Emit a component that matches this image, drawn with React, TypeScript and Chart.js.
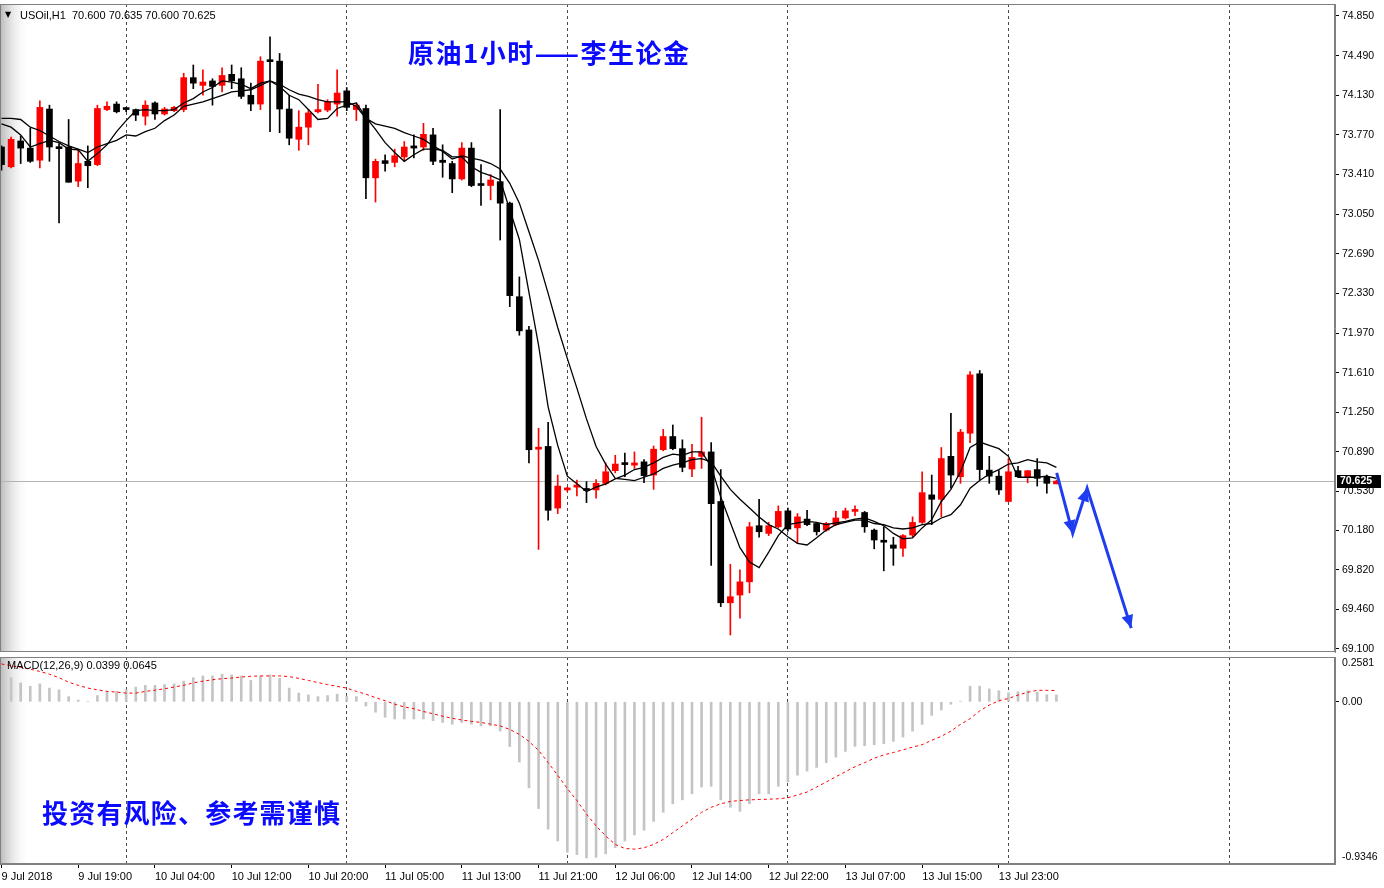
import React, { useEffect, useRef } from 'react';
import { Chart, registerables } from 'chart.js';

Chart.register(...registerables);

// ---------------- data (USOil H1) ----------------
const opens = [
  73.66, 73.48, 73.715, 73.65, 73.54, 74.005, 73.655, 73.66, 73.35, 73.53,
  73.50, 74.00, 74.05, 74.005, 74.00, 73.94, 74.06, 73.96, 73.99, 74.00,
  74.29, 74.22, 74.26, 74.22, 74.32, 74.28, 74.13, 74.05, 74.445, 74.44,
  74.005, 73.73, 73.84, 73.98, 73.995, 74.05, 74.17, 74.00, 74.01, 73.38,
  73.536, 73.52, 73.57, 73.67, 73.66, 73.77, 73.54, 73.51, 73.37, 73.65,
  73.32, 73.31, 73.345, 73.15, 72.30, 71.998, 70.915, 70.94, 70.38, 70.545,
  70.57, 70.556, 70.545, 70.605, 70.72, 70.785, 70.77, 70.80, 70.68, 70.91,
  71.03, 70.92, 70.735, 70.85, 70.89, 70.44, 69.52, 69.59, 69.71, 70.22,
  70.15, 70.21, 70.355, 70.20, 70.28, 70.24, 70.18, 70.23, 70.29, 70.35,
  70.34, 70.18, 70.08, 70.045, 70.015, 70.135, 70.25, 70.50, 70.46, 70.85,
  70.665, 71.06, 71.60, 70.725, 70.67, 70.44, 70.72, 70.665, 70.73, 70.665,
  70.60,
];
const highs = [
  73.67, 73.75, 73.76, 73.83, 74.08, 74.04, 73.69, 73.91, 73.63, 73.67,
  74.04, 74.07, 74.07, 74.02, 74.005, 74.08, 74.07, 74.02, 74.03, 74.33,
  74.405, 74.36, 74.28, 74.38, 74.405, 74.38, 74.24, 74.48, 74.66, 74.51,
  74.13, 73.99, 74.00, 74.23, 74.09, 74.36, 74.20, 74.06, 74.04, 73.55,
  73.59, 73.64, 73.71, 73.77, 73.875, 73.83, 73.68, 73.53, 73.70, 73.70,
  73.50, 73.41, 74.00, 73.16, 72.48, 72.03, 71.105, 71.16, 70.68, 70.57,
  70.635, 70.62, 70.64, 70.79, 70.86, 70.88, 70.89, 70.82, 70.944, 71.095,
  71.135, 71.00, 70.96, 71.205, 70.975, 70.73, 69.87, 69.82, 70.25, 70.46,
  70.25, 70.40, 70.38, 70.33, 70.36, 70.25, 70.25, 70.35, 70.38, 70.40,
  70.35, 70.19, 70.21, 70.115, 70.14, 70.30, 70.71, 70.68, 70.93, 71.24,
  71.095, 71.62, 71.63, 70.85, 70.72, 70.83, 70.76, 70.72, 70.83, 70.68,
  70.635,
];
const lows = [
  73.45, 73.47, 73.51, 73.52, 73.47, 73.53, 72.97, 73.34, 73.30, 73.29,
  73.49, 73.99, 73.97, 73.98, 73.90, 73.86, 73.91, 73.95, 73.98, 73.98,
  74.19, 74.13, 74.04, 74.16, 74.19, 74.10, 73.99, 74.00, 73.80, 73.79,
  73.68, 73.63, 73.68, 73.97, 73.98, 73.94, 73.99, 73.90, 73.19, 73.16,
  73.44, 73.48, 73.53, 73.56, 73.63, 73.50, 73.385, 73.245, 73.36, 73.30,
  73.13, 73.18, 72.815, 72.21, 71.95, 70.79, 70.005, 70.27, 70.33, 70.53,
  70.49, 70.43, 70.47, 70.59, 70.70, 70.665, 70.74, 70.61, 70.55, 70.90,
  70.91, 70.71, 70.665, 70.74, 69.86, 69.485, 69.227, 69.38, 69.61, 70.115,
  70.13, 70.20, 70.17, 70.06, 70.22, 70.135, 70.17, 70.22, 70.28, 70.31,
  70.16, 70.01, 69.81, 69.86, 69.94, 70.12, 70.24, 70.23, 70.30, 70.56,
  70.605, 70.975, 70.635, 70.605, 70.505, 70.44, 70.66, 70.61, 70.58, 70.515,
  70.60,
];
const closes = [
  73.50, 73.73, 73.65, 73.53, 74.02, 73.66, 73.645, 73.34, 73.51, 73.49,
  74.01, 74.03, 73.98, 74.00, 73.95, 74.04, 73.96, 74.005, 74.02, 74.29,
  74.24, 74.25, 74.21, 74.31, 74.26, 74.12, 74.05, 74.44, 74.435, 74.005,
  73.74, 73.84, 73.97, 74.00, 74.07, 74.15, 74.02, 74.04, 73.38, 73.53,
  73.51, 73.58, 73.66, 73.65, 73.775, 73.53, 73.52, 73.37, 73.65, 73.31,
  73.31, 73.36, 73.15, 72.31, 71.99, 70.91, 70.93, 70.36, 70.58, 70.555,
  70.59, 70.54, 70.605, 70.71, 70.78, 70.775, 70.79, 70.675, 70.915, 71.03,
  70.92, 70.75, 70.84, 70.89, 70.42, 69.52, 69.575, 69.71, 70.21, 70.165,
  70.22, 70.35, 70.19, 70.30, 70.23, 70.165, 70.24, 70.29, 70.355, 70.36,
  70.21, 70.09, 70.07, 70.015, 70.13, 70.25, 70.52, 70.46, 70.83, 70.68,
  71.07, 71.59, 70.73, 70.67, 70.545, 70.71, 70.665, 70.72, 70.65, 70.605,
  70.625,
];
const maFast = [
  73.87, 73.84, 73.77, 73.66, 73.69, 73.72, 73.70, 73.64, 73.635, 73.53,
  73.60, 73.68, 73.80, 73.90, 73.99, 74.00, 73.99, 73.99, 74.00, 74.06,
  74.10, 74.16, 74.20, 74.26, 74.25, 74.23, 74.19, 74.24, 74.26, 74.21,
  74.13, 74.09, 74.00, 73.91, 73.92, 74.01, 74.04, 74.06, 73.93, 73.82,
  73.70, 73.61, 73.53, 73.59, 73.64, 73.64, 73.63, 73.57, 73.57, 73.48,
  73.43, 73.40, 73.36, 73.09, 72.82, 72.34, 71.86, 71.30, 70.95, 70.67,
  70.60, 70.53, 70.57, 70.60, 70.645, 70.68, 70.73, 70.75, 70.79, 70.84,
  70.87, 70.86, 70.89, 70.89, 70.76, 70.48, 70.25, 70.02, 69.89, 69.84,
  69.98, 70.13, 70.23, 70.245, 70.26, 70.25, 70.23, 70.245, 70.26, 70.28,
  70.29, 70.26, 70.22, 70.15, 70.10, 70.11, 70.20, 70.275, 70.44, 70.55,
  70.71, 70.93, 70.98, 70.95, 70.92, 70.85, 70.66, 70.66, 70.66, 70.67,
  70.65,
];
const maSlow = [
  73.92, 73.92, 73.91, 73.84, 73.81, 73.76, 73.71, 73.67, 73.64, 73.61,
  73.66, 73.69, 73.72, 73.77, 73.76, 73.80, 73.83, 73.90, 73.95, 74.03,
  74.05, 74.07, 74.10, 74.13, 74.16, 74.17, 74.18, 74.22, 74.26, 74.23,
  74.18, 74.14, 74.12, 74.09, 74.07, 74.07, 74.07, 74.03, 73.92, 73.87,
  73.85, 73.83, 73.79, 73.76, 73.73, 73.67, 73.62, 73.55, 73.58, 73.56,
  73.54, 73.51, 73.46, 73.33, 73.15, 72.89, 72.63, 72.33, 72.02, 71.74,
  71.47, 71.19, 70.94, 70.78, 70.65, 70.64, 70.63, 70.66, 70.69, 70.74,
  70.77, 70.79, 70.82, 70.83, 70.80, 70.67, 70.55, 70.46, 70.38, 70.30,
  70.23, 70.19, 70.12, 70.06, 70.045, 70.11, 70.18, 70.23, 70.25, 70.27,
  70.27, 70.24, 70.23, 70.20, 70.19, 70.20, 70.23, 70.24, 70.29, 70.32,
  70.41, 70.56, 70.63, 70.69, 70.73, 70.78, 70.79, 70.82, 70.80, 70.79,
  70.75,
];
const macdMain = [
  0.149, 0.139, 0.109, 0.089, 0.103, 0.079, 0.069, 0.030, 0.010, 0.003,
  0.036, 0.056, 0.060, 0.069, 0.085, 0.095, 0.095, 0.099, 0.103, 0.119,
  0.139, 0.149, 0.149, 0.159, 0.155, 0.149, 0.123, 0.149, 0.155, 0.135,
  0.079, 0.050, 0.040, 0.030, 0.036, 0.044, 0.032, 0.030, -0.024, -0.060,
  -0.089, -0.099, -0.099, -0.099, -0.099, -0.109, -0.119, -0.129, -0.119, -0.129,
  -0.139, -0.139, -0.169, -0.258, -0.347, -0.496, -0.615, -0.734, -0.802, -0.867,
  -0.880, -0.900, -0.896, -0.876, -0.841, -0.802, -0.767, -0.740, -0.689, -0.637,
  -0.588, -0.565, -0.530, -0.491, -0.487, -0.565, -0.608, -0.631, -0.588, -0.530,
  -0.530, -0.487, -0.462, -0.423, -0.399, -0.378, -0.351, -0.319, -0.286, -0.257,
  -0.253, -0.247, -0.241, -0.228, -0.203, -0.169, -0.130, -0.078, -0.047, -0.014,
  0.004, 0.090, 0.090, 0.074, 0.064, 0.051, 0.058, 0.064, 0.055, 0.041,
  0.040,
];
const macdSignal = [
  0.218, 0.208, 0.198, 0.188, 0.175, 0.159, 0.139, 0.113, 0.095, 0.079,
  0.069, 0.060, 0.056, 0.050, 0.050, 0.060, 0.067, 0.075, 0.085, 0.095,
  0.109, 0.119, 0.127, 0.133, 0.137, 0.143, 0.147, 0.149, 0.149, 0.149,
  0.145, 0.135, 0.123, 0.111, 0.099, 0.089, 0.079, 0.060, 0.044, 0.024,
  0.006, -0.014, -0.030, -0.040, -0.056, -0.069, -0.083, -0.095, -0.105, -0.113,
  -0.119, -0.129, -0.139, -0.159, -0.188, -0.228, -0.280, -0.350, -0.423, -0.500,
  -0.569, -0.647, -0.715, -0.773, -0.822, -0.845, -0.849, -0.841, -0.822, -0.793,
  -0.754, -0.715, -0.676, -0.637, -0.608, -0.588, -0.574, -0.569, -0.565, -0.563,
  -0.561, -0.559, -0.553, -0.537, -0.520, -0.491, -0.462, -0.432, -0.403, -0.374,
  -0.351, -0.325, -0.306, -0.292, -0.277, -0.261, -0.247, -0.222, -0.199, -0.169,
  -0.130, -0.097, -0.053, -0.019, 0.006, 0.019, 0.039, 0.055, 0.066, 0.066,
  0.0645,
];

const priceTicks = [74.85, 74.49, 74.13, 73.77, 73.41, 73.05, 72.69, 72.33, 71.97, 71.61, 71.25, 70.89, 70.53, 70.18, 69.82, 69.46, 69.10];
const timeTickBars = [0, 8, 16, 24, 32, 40, 48, 56, 64, 72, 80, 88, 96, 104];
const timeTickLabels = ['9 Jul 2018', '9 Jul 19:00', '10 Jul 04:00', '10 Jul 12:00', '10 Jul 20:00', '11 Jul 05:00', '11 Jul 13:00', '11 Jul 21:00', '12 Jul 06:00', '12 Jul 14:00', '12 Jul 22:00', '13 Jul 07:00', '13 Jul 15:00', '13 Jul 23:00'];
const dayBreakBars = [13, 36, 59, 82, 105, 128];
const macdLabelValues = [0.2235, 0, -0.8943];
const macdLabels = ['0.2581', '0.00', '-0.9346'];
const arrowBars = [110.03, 111.7, 113.2, 117.8];
const arrowPrices = [70.7, 70.15, 70.56, 69.29];

// ---------------- scales / styles ----------------
const X_MIN = -0.156;
const X_MAX = 139.05;
const PRICE_MIN = 69.0727;
const PRICE_MAX = 74.959;
const MACD_MIN = -0.9346;
const MACD_MAX = 0.2581;
const BULL = '#ff0000';
const BEAR = '#000000';
const AXIS_W = 49;
const FONT = 'Liberation Sans';
const lastClose = closes[closes.length - 1];
const candleColors = closes.map((c, i) => (c >= opens[i] ? BULL : BEAR));

const noPad = (s: any) => {
  s.paddingTop = 0;
  s.paddingBottom = 0;
  s.paddingLeft = 0;
  s.paddingRight = 0;
};

const panelPlugin = {
  id: 'panel',
  beforeDraw(chart: any) {
    const { ctx, chartArea: a } = chart;
    ctx.save();
    const g = ctx.createLinearGradient(a.left, 0, a.left + 30, 0);
    g.addColorStop(0, 'rgba(185,185,185,1)');
    g.addColorStop(1, 'rgba(255,255,255,0)');
    ctx.fillStyle = g;
    ctx.fillRect(a.left, a.top, 30, a.bottom - a.top);
    ctx.restore();
  },
  afterDraw(chart: any) {
    const { ctx, chartArea: a } = chart;
    ctx.save();
    ctx.strokeStyle = '#808080';
    ctx.lineWidth = 1;
    ctx.strokeRect(a.left + 0.5, a.top + 0.5, a.right - a.left - 1, a.bottom - a.top - 1);
    ctx.restore();
  },
};

const pricePlugin = {
  id: 'priceLine',
  beforeDatasetsDraw(chart: any) {
    const { ctx, chartArea: a } = chart;
    const y = Math.round(chart.scales.y.getPixelForValue(lastClose)) + 0.5;
    ctx.save();
    ctx.strokeStyle = '#b4b4b4';
    ctx.lineWidth = 1;
    ctx.beginPath();
    ctx.moveTo(a.left, y);
    ctx.lineTo(a.right, y);
    ctx.stroke();
    ctx.restore();
  },
  afterDraw(chart: any) {
    const { ctx, chartArea: a } = chart;
    const y = chart.scales.y.getPixelForValue(lastClose);
    ctx.save();
    ctx.fillStyle = '#000';
    ctx.fillRect(a.right + 2, Math.round(y) - 6, 44, 13);
    ctx.fillStyle = '#fff';
    ctx.font = `bold 10.5px ${FONT}`;
    ctx.textBaseline = 'middle';
    ctx.textAlign = 'left';
    ctx.fillText(lastClose.toFixed(3), a.right + 5, Math.round(y) + 0.5);
    ctx.restore();
  },
};

const arrowPlugin = {
  id: 'arrowHeads',
  afterDatasetsDraw(chart: any) {
    const idx = chart.data.datasets.findIndex((d: any) => d.label === 'forecast');
    if (idx < 0) return;
    const pts = chart.getDatasetMeta(idx).data;
    const { ctx } = chart;
    ctx.save();
    ctx.fillStyle = '#1f3df0';
    for (let k = 1; k < pts.length; k++) {
      const p0 = pts[k - 1];
      const p1 = pts[k];
      const ang = Math.atan2(p1.y - p0.y, p1.x - p0.x);
      const len = 13;
      const hw = 6;
      const bx = p1.x - len * Math.cos(ang);
      const by = p1.y - len * Math.sin(ang);
      ctx.beginPath();
      ctx.moveTo(p1.x, p1.y);
      ctx.lineTo(bx + hw * Math.sin(ang), by - hw * Math.cos(ang));
      ctx.lineTo(bx - hw * Math.sin(ang), by + hw * Math.cos(ang));
      ctx.closePath();
      ctx.fill();
    }
    ctx.restore();
  },
};

function mainConfig(): any {
  return {
    type: 'bar',
    data: {
      datasets: [
        {
          type: 'line',
          label: 'forecast',
          data: arrowBars.map((x, i) => ({ x, y: arrowPrices[i] })),
          borderColor: '#1f3df0',
          borderWidth: 3,
          pointRadius: 0,
          order: 0,
          clip: false,
        },
        {
          type: 'line',
          label: 'MA5',
          data: maFast.map((v, i) => ({ x: i, y: v })),
          borderColor: '#000',
          borderWidth: 1.3,
          pointRadius: 0,
          order: 1,
        },
        {
          type: 'line',
          label: 'MA10',
          data: maSlow.map((v, i) => ({ x: i, y: v })),
          borderColor: '#000',
          borderWidth: 1.3,
          pointRadius: 0,
          order: 1,
        },
        {
          label: 'body',
          data: opens.map((o, i) => ({ x: i, y: [o, closes[i]] })),
          backgroundColor: candleColors,
          borderWidth: 0,
          barThickness: 6,
          minBarLength: 2,
          grouped: false,
          order: 2,
        },
        {
          label: 'wick',
          data: lows.map((l, i) => ({ x: i, y: [l, highs[i]] })),
          backgroundColor: candleColors,
          borderWidth: 0,
          barThickness: 1,
          grouped: false,
          order: 3,
        },
      ],
    },
    options: {
      responsive: false,
      animation: false,
      devicePixelRatio: 1,
      events: [],
      layout: { padding: { left: 0, right: 0, top: 4, bottom: 3 } },
      plugins: { legend: { display: false }, tooltip: { enabled: false } },
      scales: {
        x: {
          type: 'linear',
          min: X_MIN,
          max: X_MAX,
          offset: false,
          afterBuildTicks: (s: any) => {
            s.ticks = dayBreakBars.map((v) => ({ value: v }));
          },
          afterFit: (s: any) => {
            s.height = 0;
            noPad(s);
          },
          ticks: { display: false },
          grid: { color: '#4a4a4a', lineWidth: 1, drawTicks: false, offset: false },
          border: { display: false, dash: [3, 3] },
        },
        y: {
          position: 'right',
          min: PRICE_MIN,
          max: PRICE_MAX,
          afterBuildTicks: (s: any) => {
            s.ticks = priceTicks.map((v) => ({ value: v }));
          },
          afterFit: (s: any) => {
            s.width = AXIS_W;
            noPad(s);
          },
          ticks: {
            autoSkip: false,
            color: '#000',
            padding: 3,
            font: { family: FONT, size: 10.5 },
            callback: (v: any) => Number(v).toFixed(3),
          },
          grid: { drawOnChartArea: false, drawTicks: true, tickLength: 4, tickColor: '#000' },
          border: { display: true, color: '#808080' },
        },
      },
    },
    plugins: [panelPlugin, pricePlugin, arrowPlugin],
  };
}

function macdConfig(): any {
  const allTicks = [...timeTickBars, ...dayBreakBars].sort((a, b) => a - b);
  return {
    type: 'bar',
    data: {
      datasets: [
        {
          type: 'line',
          label: 'Signal',
          data: macdSignal.map((v, i) => ({ x: i, y: v })),
          borderColor: '#ff0000',
          borderWidth: 1,
          borderDash: [3, 3],
          pointRadius: 0,
          order: 0,
        },
        {
          label: 'MACD',
          data: macdMain.map((v, i) => ({ x: i, y: v })),
          backgroundColor: '#c4c4c4',
          borderWidth: 0,
          barThickness: 2,
          grouped: false,
          order: 1,
        },
      ],
    },
    options: {
      responsive: false,
      animation: false,
      devicePixelRatio: 1,
      events: [],
      layout: { padding: { left: 0, right: 0, top: 2, bottom: 0 } },
      plugins: { legend: { display: false }, tooltip: { enabled: false } },
      scales: {
        x: {
          type: 'linear',
          min: X_MIN,
          max: X_MAX,
          offset: false,
          afterBuildTicks: (s: any) => {
            s.ticks = allTicks.map((v) => ({ value: v }));
          },
          afterFit: (s: any) => {
            s.height = 24;
            noPad(s);
          },
          ticks: {
            autoSkip: false,
            maxRotation: 0,
            minRotation: 0,
            align: 'start',
            padding: 2,
            color: '#000',
            font: { family: FONT, size: 11 },
            callback: (v: any) => {
              const k = timeTickBars.indexOf(Number(v));
              return k >= 0 ? timeTickLabels[k] : '';
            },
          },
          grid: {
            offset: false,
            lineWidth: 1,
            tickLength: 4,
            color: (ctx: any) => (ctx.tick && dayBreakBars.includes(ctx.tick.value) ? '#4a4a4a' : 'rgba(0,0,0,0)'),
            tickColor: (ctx: any) => (ctx.tick && timeTickBars.includes(ctx.tick.value) ? '#000' : 'rgba(0,0,0,0)'),
          },
          border: { display: true, color: '#808080', dash: [3, 3] },
        },
        y: {
          position: 'right',
          min: MACD_MIN,
          max: MACD_MAX,
          afterBuildTicks: (s: any) => {
            s.ticks = macdLabelValues.map((v) => ({ value: v }));
          },
          afterFit: (s: any) => {
            s.width = AXIS_W;
            noPad(s);
          },
          ticks: {
            autoSkip: false,
            color: '#000',
            padding: 3,
            font: { family: FONT, size: 10.5 },
            callback: (_v: any, i: number) => macdLabels[i],
          },
          grid: {
            drawOnChartArea: false,
            tickLength: 4,
            tickColor: (ctx: any) => (ctx.index === 1 ? '#000' : 'rgba(0,0,0,0)'),
          },
          border: { display: true, color: '#808080' },
        },
      },
    },
    plugins: [panelPlugin],
  };
}

const textBase: React.CSSProperties = {
  position: 'absolute',
  whiteSpace: 'nowrap',
  fontFamily: FONT,
  fontSize: 11,
  lineHeight: '14px',
  color: '#000',
};

const cjkText: React.CSSProperties = {
  position: 'absolute',
  whiteSpace: 'nowrap',
  fontFamily: '"Noto Sans CJK SC", sans-serif',
  fontWeight: 'bold',
  fontSize: 26,
  lineHeight: '26px',
  color: '#0a0aff',
};

export default function App() {
  const mainRef = useRef<HTMLCanvasElement>(null);
  const macdRef = useRef<HTMLCanvasElement>(null);

  useEffect(() => {
    const main = new Chart(mainRef.current as HTMLCanvasElement, mainConfig());
    const macd = new Chart(macdRef.current as HTMLCanvasElement, macdConfig());
    return () => {
      main.destroy();
      macd.destroy();
    };
  }, []);

  return (
    <div style={{ position: 'fixed', left: 0, top: 0, width: 1384, height: 888, background: '#fff', overflow: 'hidden' }}>
      <canvas ref={mainRef} width={1384} height={655} style={{ position: 'absolute', left: 0, top: 0, display: 'block' }} />
      <canvas ref={macdRef} width={1384} height={233} style={{ position: 'absolute', left: 0, top: 655, display: 'block' }} />
      <div style={{ ...textBase, left: 5, top: 8, fontSize: 8, fontFamily: 'DejaVu Sans' }}>▼</div>
      <div style={{ ...textBase, left: 20, top: 8 }}>USOil,H1&nbsp;&nbsp;70.600 70.635 70.600 70.625</div>
      <div style={{ ...textBase, left: 7, top: 658 }}>MACD(12,26,9) 0.0399 0.0645</div>
      <div style={{ ...cjkText, left: 408, top: 39, letterSpacing: 1.5 }}>原油1小时——李生论金</div>
      <div style={{ ...cjkText, left: 42, top: 799, letterSpacing: 1.2 }}>投资有风险、参考需谨慎</div>
    </div>
  );
}
